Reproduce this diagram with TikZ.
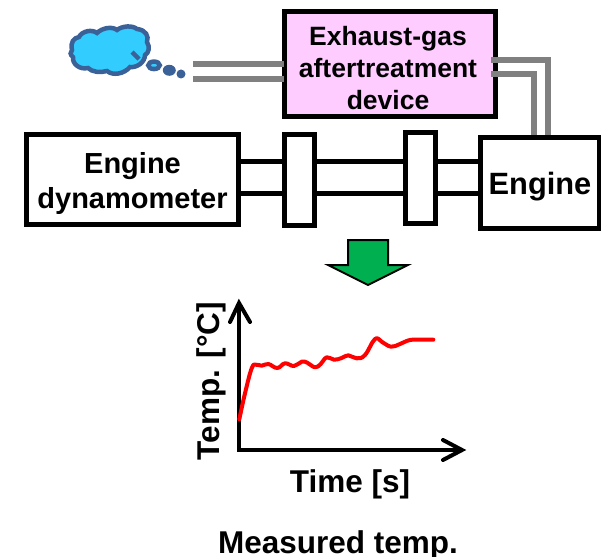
\documentclass[tikz,border=0pt]{standalone}
\usepackage{fontspec}
\setmainfont{Liberation Sans}
\usetikzlibrary{calc,shapes.geometric}
\definecolor{cloudline}{HTML}{3A6298}
\definecolor{cloudfill}{HTML}{33CCFF}
\definecolor{pinkfill}{HTML}{FFCCFF}
\definecolor{pipe}{HTML}{808080}
\definecolor{arrowgreen}{HTML}{00B050}
\tikzset{
  blockbox/.style={draw=black,line width=5pt,fill=white,inner sep=0pt},
  boxtext/.style={inner sep=0pt,align=center,font=\bfseries\fontsize{29}{35}\selectfont},
  shaft/.style={draw=black,line width=5pt},
  pipeline/.style={draw=pipe,line width=6pt,line join=miter},
  label/.style={inner sep=0pt,font=\bfseries\fontsize{31.5}{36}\selectfont},
  axisline/.style={draw=black,line width=4pt},
  cloudstroke/.style={draw=cloudline,line width=4.5pt,fill=cloudfill}
}
\begin{document}
\begin{tikzpicture}[x=1pt,y=-1pt]
\useasboundingbox (0,0) rectangle (601,556);
\coordinate (s1) at (0,161);
\coordinate (s2) at (0,193);
\coordinate (pl1) at (0,64);
\coordinate (pl2) at (0,79);
\coordinate (pr1) at (0,60);
\coordinate (pr2) at (0,74);
\coordinate (cout) at (548,0);
\coordinate (cin) at (534,0);
% boxes
\node[blockbox,fill=pinkfill,minimum width=211pt,minimum height=104.5pt] (aft) at (390,64.2) {};
\node[boxtext,font=\bfseries\fontsize{26.5}{32}\selectfont,yshift=-4pt,xshift=-2pt] (afttext) at (aft.center) {Exhaust-gas\\aftertreatment\\device};
\node[blockbox,minimum width=212pt,minimum height=90pt] (dyno) at (132.5,179.5) {};
\node[boxtext,yshift=-4pt] (dynotext) at (dyno.center) {Engine\\dynamometer};
\node[blockbox,minimum width=30pt,minimum height=90.5pt] (blockA) at (299.5,179.8) {};
\node[blockbox,minimum width=30pt,minimum height=91.5pt] (blockB) at (420.5,178.2) {};
\node[blockbox,minimum width=119pt,minimum height=90.5pt] (engine) at (540,182.8) {};
\node[boxtext,font=\bfseries\fontsize{30.8}{35}\selectfont,yshift=-4pt] (enginetext) at (engine.center) {Engine};
% shafts
\draw[shaft] (dyno.east |- s1) -- (blockA.west |- s1);
\draw[shaft] (dyno.east |- s2) -- (blockA.west |- s2);
\draw[shaft] (blockA.east |- s1) -- (blockB.west |- s1);
\draw[shaft] (blockA.east |- s2) -- (blockB.west |- s2);
\draw[shaft] (blockB.east |- s1) -- (engine.west |- s1);
\draw[shaft] (blockB.east |- s2) -- (engine.west |- s2);
% cloud
\draw[cloudstroke] (72,50)
 .. controls (70,42) and (74,38) .. (79,37)
 .. controls (82,31) and (92,29) .. (97,33)
 .. controls (102,28) and (112,26) .. (117,30)
 .. controls (122,26) and (132,25) .. (137,29)
 .. controls (146,30) and (149,36) .. (147,42)
 .. controls (150,47) and (149,53) .. (145,55)
 .. controls (145,62) and (137,68) .. (130,67)
 .. controls (124,74) and (113,76) .. (107,71)
 .. controls (100,73) and (92,72) .. (88,68)
 .. controls (80,70) and (72,64) .. (73,57)
 .. controls (70,55) and (70,52) .. (72,50) -- cycle;
\draw[draw=cloudline,line width=4.5pt] (132,52) -- (139,59);
\node[draw=cloudline,line width=4.5pt,fill=cloudfill,ellipse,inner sep=0pt,minimum width=11.5pt,minimum height=7.5pt] (puffA) at (154,65.3) {};
\node[fill=cloudline,ellipse,inner sep=0pt,minimum width=13pt,minimum height=11pt] (puffB) at (169.3,70.3) {};
\node[fill=cloudline,circle,inner sep=0pt,minimum size=9pt] (puffC) at (181,74) {};
% pipes
\coordinate (leftend) at (193,0);
\draw[pipeline] (leftend |- pl1) -- ($(aft.west |- pl1)+(2,0)$);
\draw[pipeline] (leftend |- pl2) -- ($(aft.west |- pl2)+(2,0)$);
\draw[pipeline] ($(aft.east |- pr1)+(-7,0)$) -- (cout |- pr1) -- (cout |- engine.north);
\draw[pipeline] ($(aft.east |- pr2)+(-7,0)$) -- (cin |- pr2) -- (cin |- engine.north);
% green arrow
\draw[fill=arrowgreen,draw=black,line width=2pt,line join=miter] (348,240) -- (388,240) -- (388,265) -- (408,265) -- (368,285) -- (328,265) -- (348,265) -- cycle;
% axes
\coordinate (origin) at (239,450);
\coordinate (ytop) at (239,303);
\coordinate (xend) at (462,450);
\draw[axisline,line join=miter] (ytop) -- (origin) -- (xend);
\draw[axisline,line cap=round,line join=miter] (230,322) -- (ytop) -- (250,322);
\draw[axisline,line cap=round,line join=miter] (443,440) -- (xend) -- (443,460);
% curve
\draw[draw=red,line width=4pt,line cap=round,line join=round] plot[smooth,tension=0.7] coordinates {
(239.3,419.3)(245,393.3)(251.7,368.3)(256,364.7)(261.7,365.7)(268.3,364)(277.3,368)(285,363.3)(294,366)(301.7,361.7)(307.3,362.7)(315,367.3)(320.7,364)(326.7,357.3)(334,359.7)(341.7,358)(348.3,355.3)(356.7,358.3)(365,355)(375,339)(381.7,341.7)(391,346.7)(400,344)(410,340)(421.7,339.7)(433.3,339.7)};
% labels
\node[label,rotate=90,anchor=center] (ylab) at (211,381) {Temp. [°C]};
\node[label] (xlab) at (350,484) {Time [s]};
\node[label] (cap) at (338,545) {Measured temp.};
\end{tikzpicture}
\end{document}
